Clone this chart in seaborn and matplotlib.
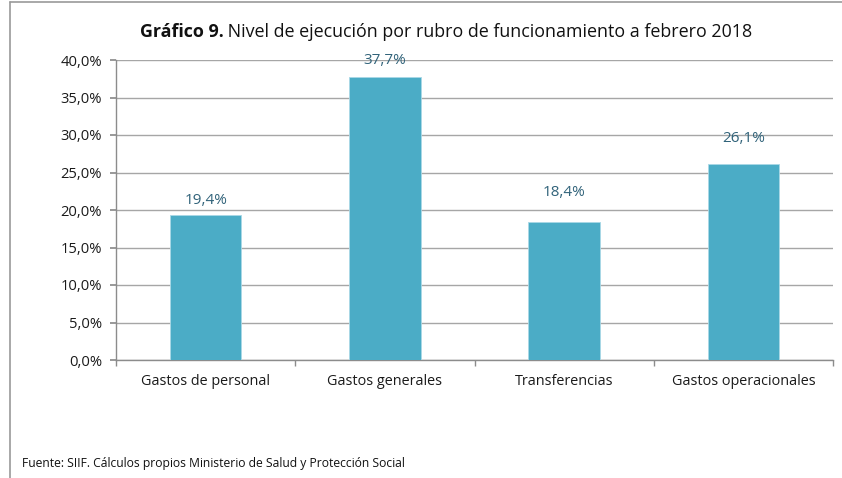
import matplotlib
matplotlib.use("Agg")
import matplotlib.pyplot as plt
import seaborn as sns
import pandas as pd
from matplotlib.lines import Line2D
from matplotlib.ticker import FuncFormatter, FixedLocator

# ==========================================
# DATA
# ==========================================
categories = ["Gastos de personal", "Gastos generales", "Transferencias", "Gastos operacionales"]
ejecucion = [19.4, 37.7, 18.4, 26.1]
y_ticks = [0, 5, 10, 15, 20, 25, 30, 35, 40]

title_bold = "Gráfico 9."
title_rest = " Nivel de ejecución por rubro de funcionamiento a febrero 2018"
fuente = "Fuente: SIIF. Cálculos propios Ministerio de Salud y Protección Social"

BAR_COLOR = "#4BACC6"
LABEL_COLOR = "#31637A"
GRID_COLOR = "#A6A6A6"
FONT = "Open Sans"

sns.set_theme(style="white")
plt.rcParams["font.family"] = [FONT, "DejaVu Sans"]

df = pd.DataFrame({"rubro": categories, "valor": ejecucion})

fig = plt.figure(figsize=(8.42, 4.78), dpi=100)
ax = fig.add_axes([116 / 842, 1 - 360 / 478, (833 - 116) / 842, 300 / 478])

sns.barplot(data=df, x="rubro", y="valor", color=BAR_COLOR, width=0.4,
            saturation=1, edgecolor="#A9D8E6", linewidth=0.6, ax=ax, zorder=3)

ax.set_xlim(-0.5, len(categories) - 0.5)
ax.set_ylim(0, 40)
ax.set_yticks(y_ticks)
ax.yaxis.set_major_formatter(FuncFormatter(lambda v, _: f"{v:.1f}%".replace(".", ",")))
ax.set_xlabel("")
ax.set_ylabel("")

ax.grid(axis="y", color=GRID_COLOR, linewidth=1.0, zorder=0)
ax.set_axisbelow(True)
for side in ["top", "right"]:
    ax.spines[side].set_visible(False)
for side in ["left", "bottom"]:
    ax.spines[side].set_color("#8C8C8C")
    ax.spines[side].set_linewidth(1.0)

ax.tick_params(axis="y", which="major", length=4, color="#8C8C8C", labelsize=10.6,
               labelcolor="#1A1A1A", pad=6, left=True)
ax.tick_params(axis="x", which="major", length=0, labelsize=10.4, labelcolor="#1A1A1A", pad=10)
ax.xaxis.set_minor_locator(FixedLocator([i - 0.5 for i in range(len(categories) + 1)]))
ax.tick_params(axis="x", which="minor", length=4, color="#8C8C8C", bottom=True)

# value labels (Excel places them at slightly uneven heights)
label_offsets = [14.5, 17, 29, 26]
for i, (v, off) in enumerate(zip(ejecucion, label_offsets)):
    ax.annotate(f"{v:.1f}%".replace(".", ","), (i, v), xytext=(0, off),
                textcoords="offset pixels", ha="center", va="center",
                fontsize=11, color=LABEL_COLOR)

# title: bold lead-in followed by regular text, centred as a whole
fig.canvas.draw()
renderer = fig.canvas.get_renderer()
ty = 1 - 32 / 478
t1 = fig.text(0, ty, title_bold, fontsize=12.9, fontweight="bold", va="center", color="#111111")
t2 = fig.text(0, ty, title_rest, fontsize=12.9, va="center", color="#111111")
w1 = t1.get_window_extent(renderer).width
w2 = t2.get_window_extent(renderer).width
x0 = 446 - (w1 + w2) / 2
t1.set_x(x0 / 842)
t2.set_x((x0 + w1) / 842)

fig.text(22 / 842, 1 - 464 / 478, fuente, fontsize=8.7, va="center", color="#111111")

# frame lines of the original picture
fig.add_artist(Line2D([10 / 842, 10 / 842], [0, 1 - 2 / 478], color="#9A9A9A", linewidth=1.2))
fig.add_artist(Line2D([10 / 842, 1], [1 - 2 / 478, 1 - 2 / 478], color="#9A9A9A", linewidth=1.2))

fig.savefig("out.png", dpi=100)
